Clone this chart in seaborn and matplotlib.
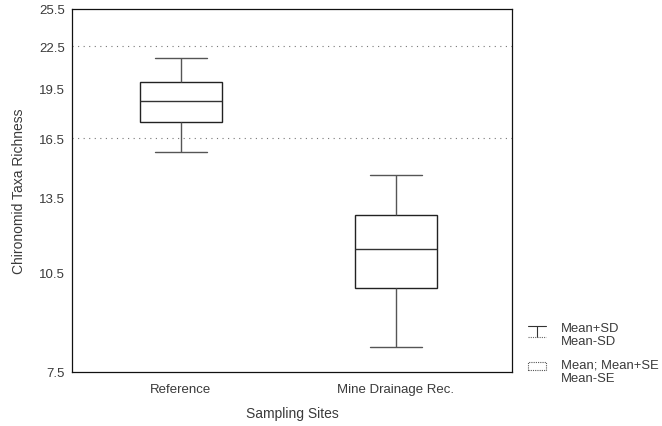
import numpy as np
import pandas as pd
import matplotlib
matplotlib.use("Agg")
import matplotlib.pyplot as plt
import seaborn as sns
from matplotlib.lines import Line2D
from matplotlib.patches import Rectangle
from matplotlib.legend_handler import HandlerBase
from matplotlib.ticker import FixedLocator, FormatStrFormatter, NullLocator

# values
sites = ["Reference", "Mine Drainage Rec."]
means = [18.7, 11.35]
sds = [2.95, 3.2]
ses = [1.25, 1.4]
ytick_values = [7.5, 10.5, 13.5, 16.5, 19.5, 22.5, 25.5]
grid_levels = [22.5, 16.5]

# five values per site -> percentiles 0/25/50/75/100 give SD whiskers, SE box, mean line
rows = []
for site, m, sd, se in zip(sites, means, sds, ses):
    for v in (m - sd, m - se, m, m + se, m + sd):
        rows.append({"site": site, "richness": v})
df = pd.DataFrame(rows)

sns.set_style("white")
plt.rcParams["font.family"] = ["Liberation Sans", "DejaVu Sans"]
txt = "#3a3a3a"

fig = plt.figure(figsize=(6.62, 4.27), dpi=100)
ax = fig.add_axes([0.1088, 0.1265, 0.6646, 0.8501])

ax.set_yscale("log")
for g in grid_levels:
    ax.axhline(g, color="#777777", lw=0.8, ls=(0, (1, 4)), zorder=0)

sns.boxplot(data=df, x="site", y="richness", order=sites, whis=(0, 100),
            width=0.38, ax=ax, color="white", linewidth=1.0, linecolor="#222222",
            capwidths=0.24,
            whiskerprops={"color": "#555555"}, capprops={"color": "#555555"},
            medianprops={"color": "#333333"})

ax.set_ylim(7.5, 25.5)
ax.set_xlim(-0.507, 1.54)
ax.yaxis.set_major_locator(FixedLocator(ytick_values))
ax.yaxis.set_major_formatter(FormatStrFormatter("%.1f"))
ax.yaxis.set_minor_locator(NullLocator())
ax.tick_params(axis="y", direction="in", length=3, width=0.6, colors=txt, labelsize=9.5, pad=5)
ax.tick_params(axis="x", length=0, colors=txt, labelsize=9.5, pad=8)
for sp in ax.spines.values():
    sp.set_visible(True)
    sp.set_color("#111111")
    sp.set_linewidth(0.9)

ax.set_xlabel("Sampling Sites", fontsize=10, color=txt, labelpad=8)
ax.set_ylabel("Chironomid Taxa Richness", fontsize=10, color=txt, labelpad=9.5)


class HandlerWhisker(HandlerBase):
    def create_artists(self, legend, orig_handle, xdescent, ydescent, width, height, fontsize, trans):
        x0, x1 = -xdescent, width - xdescent
        cx = (x0 + x1) / 2
        yc = height / 2 - ydescent + 2.2
        y0, y1 = yc - 4, yc + 4
        return [Line2D([x0, x1], [y1, y1], color="#333333", lw=0.8, transform=trans),
                Line2D([cx, cx], [y0, y1], color="#333333", lw=0.8, transform=trans),
                Line2D([x0, x1], [y0, y0], color="#666666", lw=0.8, ls=(0, (1, 1)), transform=trans)]


class HandlerBox(HandlerBase):
    def create_artists(self, legend, orig_handle, xdescent, ydescent, width, height, fontsize, trans):
        x0 = -xdescent
        yc = height / 2 - ydescent + 4.0
        r = Rectangle((x0, yc - 2.9), width, 5.8, facecolor="white", edgecolor="#555555",
                      lw=0.8, ls=(0, (1, 1)), transform=trans)
        return [r]


whisk = Line2D([], [])
box = Rectangle((0, 0), 1, 1)
leg = fig.legend([whisk, box], ["Mean+SD\nMean-SD", "Mean; Mean+SE\nMean-SE"],
                 handler_map={Line2D: HandlerWhisker(), Rectangle: HandlerBox()},
                 loc="upper left", bbox_to_anchor=(0.78, 0.272), frameon=False,
                 fontsize=9.4, labelcolor=txt, handlelength=1.38, handletextpad=1.15,
                 labelspacing=0.9)
for t in leg.get_texts():
    t.set_linespacing(1.15)

fig.savefig("out.png", dpi=100)
